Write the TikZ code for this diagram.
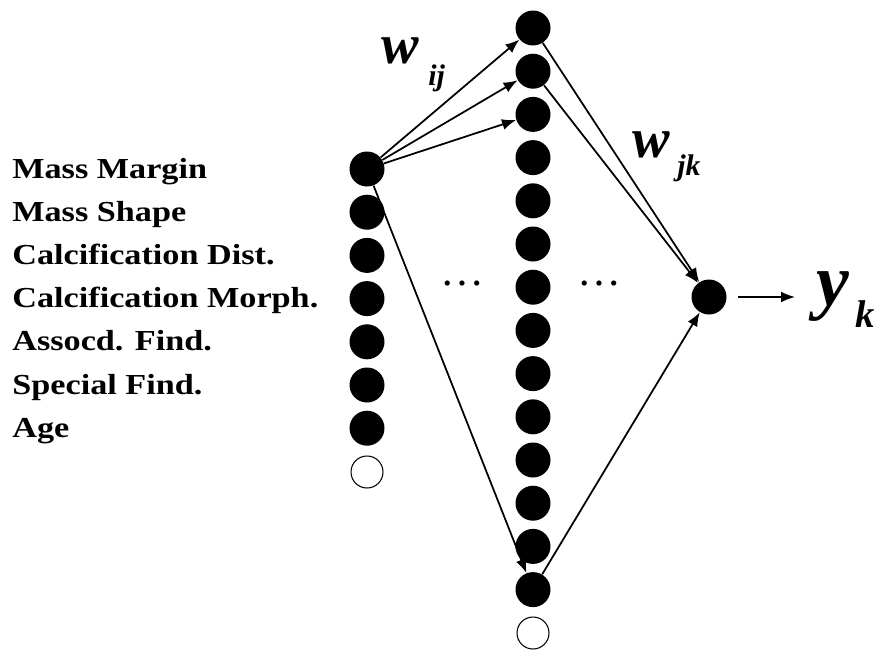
\documentclass[tikz,border=0pt]{standalone}
\usepackage{fontspec}
\setmainfont{Liberation Serif}
\usetikzlibrary{arrows.meta}

\tikzset{
  unit/.style={circle,fill=black,minimum size=0.7cm,inner sep=0pt},
  bias/.style={circle,draw,line width=0.6pt,minimum size=0.64cm,inner sep=0pt},
  conn/.style={-{Latex[length=2.8mm,width=2.2mm]},line width=1pt},
  feature/.style={anchor=base west,inner sep=0pt,font=\fontsize{16.5}{16.5}\selectfont\bfseries},
  wlabel/.style={anchor=base west,inner sep=0pt,font=\fontsize{#1}{#1}\selectfont\bfseries\itshape}
}
\newcommand{\widen}[1]{\scalebox{1.18}[1]{#1}}

\begin{document}
\begin{tikzpicture}[x=0.02cm,y=-0.02cm]
\useasboundingbox (0,0) rectangle (879,653);

% input layer
\foreach \i in {1,...,7}
  \node[unit] (in\i) at (367,{169+43.2*(\i-1)}) {};
\node[bias] (in0) at (367,472) {};

% hidden layer
\foreach \j in {1,...,14}
  \node[unit] (h\j) at (533,{28+43.2*(\j-1)}) {};
\node[bias] (h0) at (533,633) {};

% output
\node[unit] (out) at (709,297) {};
\coordinate (ytip) at (795,297);

% feature names
\foreach \t [count=\i] in {Mass Margin,Mass Shape,Calcification Dist.,Calcification Morph.,Assocd. Find.,Special Find.,Age}
  \node[feature] (lbl\i) at (12,{178+43.2*(\i-1)}) {\widen{\t}};

% weights
\draw[conn] (in1) -- (h1);
\draw[conn] (in1) -- (h2);
\draw[conn] (in1) -- (h3);
\draw[conn] (in1) -- (h14);
\draw[conn] (h1) -- (out);
\draw[conn] (h2) -- (out);
\draw[conn] (h14) -- (out);
\draw[conn,shorten <=0.22cm] (out) -- (ytip);

% labels
\node[wlabel=32] (wij) at (381,63) {w};
\node[wlabel=17] (ij) at (428,85) {ij};
\node[wlabel=32] (wjk) at (632,157) {w};
\node[wlabel=17] (jk) at (677,175) {jk};
\node[wlabel=42] (yk) at (816,305) {y};
\node[wlabel=22] (k) at (855,327) {k};

% dots
\node[anchor=base,inner sep=0pt,font=\fontsize{25}{25}\selectfont] (dl) at (462,285) {\dots};
\node[anchor=base,inner sep=0pt,font=\fontsize{25}{25}\selectfont] (dr) at (599,285) {\dots};
\end{tikzpicture}
\end{document}
